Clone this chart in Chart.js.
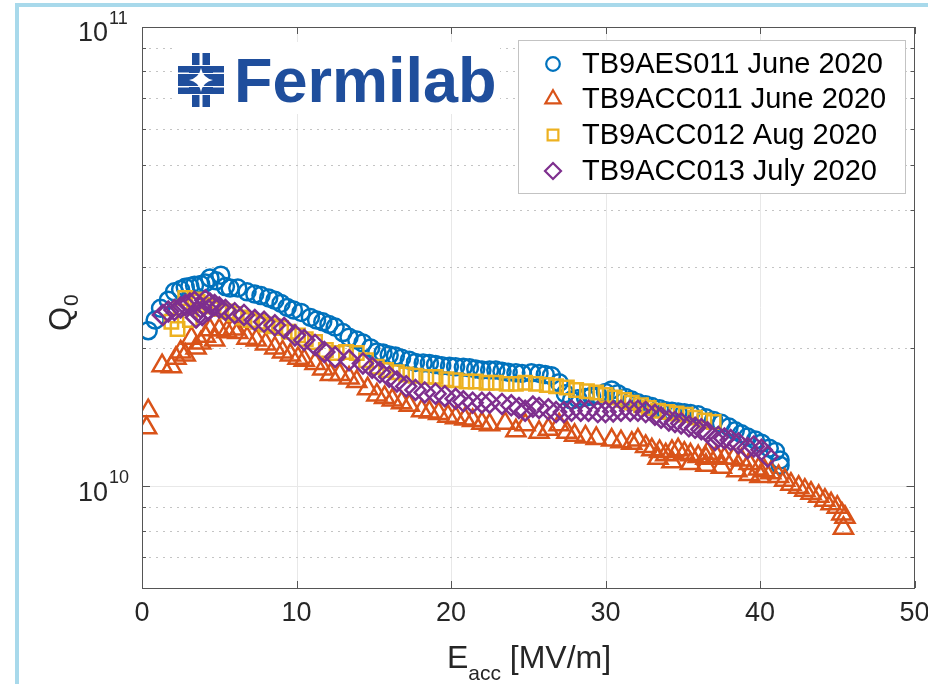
<!DOCTYPE html>
<html>
<head>
<meta charset="utf-8">
<script src="https://cdn.jsdelivr.net/npm/chart.js@4.4.1/dist/chart.umd.min.js"></script>
<style>
  html, body { margin: 0; padding: 0; background: #fff; }
  #wrap { position: relative; width: 928px; height: 684px; overflow: hidden; }
  #frame { position: absolute; left: 15px; top: 3px; right: -10px; bottom: -10px;
           border-left: 4px solid #a8d9eb; border-top: 4px solid #a8d9eb; pointer-events: none; }
  canvas { position: absolute; left: 0; top: 0; }
</style>
</head>
<body>
<div id="wrap">
  <canvas id="qChart" width="928" height="684"></canvas>
  <div id="frame"></div>
</div>
<script>
// E_acc [MV/m], Q0
const aes011June = [
  [0.4, 2.18e10], [0.85, 2.30e10], [1.2, 2.44e10], [1.7, 2.54e10], [2.1, 2.65e10], [2.5, 2.68e10],
  [2.8, 2.71e10], [3.1, 2.72e10], [3.4, 2.74e10], [3.8, 2.75e10], [4.1, 2.77e10], [4.4, 2.84e10],
  [4.8, 2.80e10], [5.1, 2.88e10], [5.4, 2.72e10], [5.7, 2.70e10], [6.2, 2.70e10], [6.8, 2.65e10],
  [7.3, 2.62e10], [7.7, 2.60e10], [8.2, 2.57e10], [8.6, 2.54e10], [9.0, 2.50e10], [9.4, 2.45e10],
  [9.8, 2.42e10], [10.3, 2.39e10], [10.9, 2.33e10], [11.3, 2.30e10], [11.7, 2.28e10], [12.1, 2.25e10],
  [12.5, 2.22e10], [13.0, 2.16e10], [13.4, 2.11e10], [13.9, 2.08e10], [14.3, 2.05e10], [14.8, 2.00e10],
  [15.2, 1.96e10], [15.6, 1.95e10], [16.0, 1.93e10], [16.4, 1.92e10], [16.8, 1.90e10], [17.3, 1.88e10],
  [17.7, 1.86e10], [18.2, 1.855e10], [18.6, 1.85e10], [19.0, 1.84e10], [19.4, 1.83e10], [19.9, 1.825e10],
  [20.3, 1.82e10], [20.8, 1.815e10], [21.2, 1.81e10], [21.6, 1.80e10], [22.0, 1.79e10], [22.5, 1.79e10],
  [22.9, 1.79e10], [23.3, 1.78e10], [23.7, 1.77e10], [24.2, 1.765e10], [24.6, 1.76e10], [25.2, 1.765e10],
  [25.7, 1.76e10], [26.1, 1.75e10], [26.5, 1.74e10], [27.0, 1.68e10], [27.4, 1.59e10], [27.8, 1.54e10],
  [28.2, 1.55e10], [28.7, 1.56e10], [29.1, 1.57e10], [29.5, 1.58e10], [30.0, 1.60e10], [30.4, 1.62e10],
  [30.8, 1.59e10], [31.3, 1.56e10], [31.7, 1.54e10], [32.1, 1.52e10], [32.6, 1.505e10], [33.0, 1.49e10],
  [33.5, 1.475e10], [33.9, 1.46e10], [34.3, 1.455e10], [34.7, 1.45e10], [35.1, 1.445e10], [35.5, 1.44e10],
  [36.0, 1.43e10], [36.5, 1.41e10], [37.0, 1.39e10], [37.5, 1.37e10], [38.0, 1.345e10], [38.4, 1.32e10],
  [38.8, 1.30e10], [39.2, 1.28e10], [39.7, 1.26e10], [40.1, 1.24e10], [40.6, 1.21e10], [41.0, 1.19e10],
  [41.3, 1.14e10], [41.3, 1.11e10]
];

const acc011June = [
  [0.3, 1.34e10], [0.4, 1.46e10], [1.3, 1.83e10], [1.9, 1.82e10], [2.2, 1.90e10], [2.5, 1.96e10],
  [2.8, 1.93e10], [3.2, 2.10e10], [3.5, 2.00e10], [3.8, 2.05e10], [4.1, 2.12e10], [4.4, 2.19e10],
  [4.7, 2.08e10], [5.0, 2.19e10], [5.5, 2.17e10], [5.9, 2.20e10], [6.2, 2.16e10], [6.8, 2.10e10],
  [7.4, 2.08e10], [8.0, 2.04e10], [8.6, 2.00e10], [9.1, 1.96e10], [9.6, 1.93e10], [10.1, 1.90e10],
  [10.5, 1.88e10], [11.2, 1.85e10], [11.7, 1.80e10], [12.2, 1.75e10], [12.8, 1.75e10], [13.4, 1.72e10],
  [13.9, 1.69e10], [14.6, 1.63e10], [15.2, 1.58e10], [15.7, 1.56e10], [16.2, 1.54e10], [16.8, 1.52e10],
  [17.3, 1.50e10], [18.1, 1.46e10], [18.6, 1.45e10], [19.2, 1.44e10], [19.8, 1.42e10], [20.3, 1.41e10],
  [20.9, 1.40e10], [21.4, 1.39e10], [22.0, 1.37e10], [22.5, 1.36e10], [23.5, 1.37e10], [24.2, 1.32e10],
  [24.8, 1.36e10], [25.7, 1.31e10], [26.3, 1.33e10], [27.0, 1.36e10], [27.5, 1.31e10], [28.0, 1.29e10],
  [28.7, 1.28e10], [29.4, 1.27e10], [30.4, 1.26e10], [31.0, 1.25e10], [31.7, 1.24e10], [32.1, 1.26e10],
  [32.6, 1.22e10], [33.0, 1.20e10], [33.4, 1.15e10], [33.5, 1.19e10], [33.9, 1.17e10], [34.3, 1.13e10],
  [34.3, 1.19e10], [34.7, 1.20e10], [35.1, 1.18e10], [35.5, 1.12e10], [35.5, 1.17e10], [36.0, 1.16e10],
  [36.5, 1.11e10], [36.5, 1.15e10], [36.6, 1.18e10], [37.2, 1.16e10], [37.5, 1.10e10], [37.7, 1.15e10],
  [38.3, 1.15e10], [38.5, 1.08e10], [38.8, 1.14e10], [39.3, 1.06e10], [39.3, 1.12e10], [39.9, 1.09e10],
  [40.0, 1.05e10], [40.3, 1.08e10], [40.7, 1.07e10], [41.2, 1.05e10], [41.6, 1.03e10], [42.0, 1.01e10],
  [42.5, 0.995e10], [42.9, 0.98e10], [43.3, 0.965e10], [43.8, 0.95e10], [44.2, 0.932e10], [44.6, 0.915e10],
  [45.0, 0.90e10], [45.3, 0.87e10], [45.5, 0.856e10], [45.4, 0.81e10]
];

const acc012Aug = [
  [1.9, 2.28e10], [2.3, 2.20e10], [2.5, 2.45e10], [2.8, 2.57e10], [3.1, 2.30e10], [3.4, 2.55e10],
  [3.6, 2.52e10], [4.0, 2.48e10], [4.5, 2.46e10], [5.0, 2.43e10], [5.5, 2.40e10], [6.0, 2.37e10],
  [6.5, 2.33e10], [7.0, 2.30e10], [7.5, 2.28e10], [8.0, 2.25e10], [8.5, 2.23e10], [9.0, 2.21e10],
  [9.5, 2.17e10], [10.1, 2.13e10], [10.6, 2.09e10], [11.2, 2.06e10], [11.9, 1.98e10], [12.6, 1.95e10],
  [13.2, 1.96e10], [13.9, 1.95e10], [14.5, 1.88e10], [15.2, 1.82e10], [15.8, 1.79e10], [16.5, 1.77e10],
  [17.1, 1.75e10], [17.7, 1.74e10], [18.4, 1.73e10], [19.0, 1.73e10], [19.7, 1.71e10], [20.3, 1.70e10],
  [21.0, 1.69e10], [21.6, 1.69e10], [22.3, 1.68e10], [22.9, 1.68e10], [23.6, 1.67e10], [24.2, 1.67e10],
  [24.8, 1.68e10], [25.5, 1.67e10], [26.2, 1.66e10], [26.8, 1.65e10], [27.5, 1.64e10], [28.1, 1.62e10],
  [28.8, 1.61e10], [29.4, 1.60e10], [30.0, 1.58e10], [30.6, 1.56e10], [31.2, 1.54e10], [31.7, 1.52e10],
  [32.3, 1.50e10], [32.8, 1.48e10], [33.4, 1.46e10], [34.0, 1.45e10], [34.6, 1.44e10], [35.2, 1.43e10],
  [35.8, 1.41e10], [36.4, 1.39e10], [37.0, 1.38e10]
];

const acc013July = [
  [1.35, 2.36e10], [1.7, 2.40e10], [2.1, 2.42e10], [2.5, 2.45e10], [2.8, 2.48e10], [3.1, 2.50e10],
  [3.4, 2.52e10], [3.5, 2.33e10], [3.6, 2.40e10], [3.8, 2.45e10], [3.9, 2.36e10], [4.1, 2.54e10],
  [4.3, 2.42e10], [4.4, 2.50e10], [4.7, 2.48e10], [5.0, 2.45e10], [5.4, 2.42e10], [6.0, 2.38e10],
  [6.6, 2.36e10], [7.3, 2.30e10], [7.9, 2.28e10], [8.6, 2.24e10], [9.2, 2.21e10], [9.9, 2.13e10],
  [10.5, 2.08e10], [11.2, 2.03e10], [11.8, 1.96e10], [12.5, 1.91e10], [13.4, 1.88e10], [14.3, 1.85e10],
  [14.9, 1.81e10], [15.4, 1.77e10], [16.0, 1.73e10], [16.5, 1.69e10], [17.1, 1.65e10], [17.7, 1.62e10],
  [18.3, 1.60e10], [19.0, 1.59e10], [19.6, 1.57e10], [20.3, 1.55e10], [20.8, 1.53e10], [21.4, 1.52e10],
  [22.0, 1.52e10], [22.5, 1.52e10], [23.3, 1.51e10], [23.9, 1.50e10], [24.4, 1.48e10], [24.8, 1.46e10],
  [25.3, 1.49e10], [25.7, 1.48e10], [26.3, 1.47e10], [26.8, 1.45e10], [27.3, 1.45e10], [27.8, 1.46e10],
  [28.4, 1.46e10], [28.9, 1.46e10], [29.5, 1.45e10], [30.0, 1.45e10], [30.5, 1.455e10], [31.0, 1.46e10],
  [31.6, 1.46e10], [32.1, 1.46e10], [32.6, 1.45e10], [33.2, 1.43e10], [33.6, 1.41e10], [34.1, 1.39e10],
  [34.5, 1.38e10], [34.9, 1.37e10], [35.4, 1.35e10], [35.8, 1.34e10], [36.2, 1.33e10], [36.6, 1.31e10],
  [37.1, 1.26e10], [37.3, 1.28e10], [37.7, 1.27e10], [38.1, 1.26e10], [38.6, 1.24e10], [39.2, 1.21e10],
  [39.6, 1.22e10], [40.1, 1.20e10], [40.5, 1.16e10]
];

const seriesLabels = ["TB9AES011 June 2020", "TB9ACC011 June 2020", "TB9ACC012 Aug 2020", "TB9ACC013 July 2020"];
const seriesColors = ["#0072BD", "#D95319", "#EDB120", "#7E2F8E"];
const seriesStyles = ["circle", "triangle", "rect", "rectRot"];
const seriesRadius = [8.5, 11, 9.5, 10];

const xTicks = [0, 10, 20, 30, 40, 50];
const yDecades = [1e10, 1e11];
const yMinor = [7e9, 8e9, 9e9, 2e10, 3e10, 4e10, 5e10, 6e10, 7e10, 8e10, 9e10];

const FONT = "'Liberation Sans', Arial, Helvetica, sans-serif";
const AXIS_COLOR = "#262626";
const FERMI_BLUE = "#1f4e9c";
const MARK_WIDTH = 2.5;

function toPoints(pairs) {
  return pairs.map(p => ({x: p[0], y: p[1]}));
}

// little helper so the legend markers match the dataset markers
function drawMarker(ctx, style, x, y, r, color) {
  ctx.save();
  ctx.strokeStyle = color;
  ctx.lineWidth = 2.2;
  ctx.beginPath();
  if (style === "circle") {
    ctx.arc(x, y, r, 0, Math.PI * 2);
  } else if (style === "triangle") {
    for (let k = 0; k < 3; k++) {
      const a = k * 2 * Math.PI / 3;
      const px = x + Math.sin(a) * r, py = y - Math.cos(a) * r;
      if (k === 0) ctx.moveTo(px, py); else ctx.lineTo(px, py);
    }
    ctx.closePath();
  } else if (style === "rect") {
    const s = r * Math.SQRT1_2;
    ctx.rect(x - s, y - s, 2 * s, 2 * s);
  } else {
    ctx.moveTo(x, y - r); ctx.lineTo(x + r, y); ctx.lineTo(x, y + r); ctx.lineTo(x - r, y);
    ctx.closePath();
  }
  ctx.stroke();
  ctx.restore();
}

function drawFermilabLogo(ctx) {
  ctx.save();
  // white patch behind the logo (pasted image in the original)
  ctx.fillStyle = "#fff";
  ctx.fillRect(176, 42, 324, 72);
  const cx = 201, cy = 80;
  ctx.fillStyle = FERMI_BLUE;
  ctx.fillRect(cx - 9, cy - 27, 18, 12);
  ctx.fillRect(cx - 23, cy - 14, 46, 7);
  ctx.fillRect(cx - 23, cy - 6, 46, 12);
  ctx.fillRect(cx - 23, cy + 7, 46, 7);
  ctx.fillRect(cx - 9, cy + 15, 18, 12);
  ctx.fillStyle = "#fff";
  ctx.fillRect(cx - 1.5, cy - 27, 3, 12);
  ctx.fillRect(cx - 1.5, cy + 15, 3, 12);
  ctx.fillRect(cx - 23, cy - 7.5, 11, 1.5);
  ctx.fillRect(cx + 12, cy - 7.5, 11, 1.5);
  ctx.fillRect(cx - 23, cy + 6, 11, 1.5);
  ctx.fillRect(cx + 12, cy + 6, 11, 1.5);
  // concave star in the middle
  const r = 12;
  ctx.beginPath();
  ctx.moveTo(cx, cy - r);
  ctx.quadraticCurveTo(cx + 2, cy - 2, cx + r, cy);
  ctx.quadraticCurveTo(cx + 2, cy + 2, cx, cy + r);
  ctx.quadraticCurveTo(cx - 2, cy + 2, cx - r, cy);
  ctx.quadraticCurveTo(cx - 2, cy - 2, cx, cy - r);
  ctx.fill();
  ctx.fillStyle = FERMI_BLUE;
  ctx.font = "bold 63px " + FONT;
  ctx.textBaseline = "alphabetic";
  ctx.textAlign = "left";
  ctx.fillText("Fermilab", 234, 102);
  ctx.restore();
}

const decorPlugin = {
  id: "decor",
  beforeDatasetsDraw(chart) {
    const {ctx, chartArea: a, scales: {x, y}} = chart;
    ctx.save();
    ctx.lineWidth = 1;
    // x grid, solid and faint
    ctx.strokeStyle = "#e8e8e8";
    for (const v of xTicks) {
      if (v === 0 || v === 50) continue;
      const px = Math.round(x.getPixelForValue(v)) + 0.5;
      ctx.beginPath(); ctx.moveTo(px, a.top); ctx.lineTo(px, a.bottom); ctx.stroke();
    }
    for (const v of yDecades) {
      const py = Math.round(y.getPixelForValue(v)) + 0.5;
      ctx.beginPath(); ctx.moveTo(a.left, py); ctx.lineTo(a.right, py); ctx.stroke();
    }
    // minor y grid, dotted
    ctx.strokeStyle = "#c4c4c4";
    ctx.setLineDash([2, 5]);
    for (const v of yMinor) {
      const py = Math.round(y.getPixelForValue(v)) + 0.5;
      ctx.beginPath(); ctx.moveTo(a.left, py); ctx.lineTo(a.right, py); ctx.stroke();
    }
    ctx.restore();
    drawFermilabLogo(ctx);
  },
  afterDatasetsDraw(chart) {
    const {ctx, chartArea: a, scales: {x, y}} = chart;
    ctx.save();
    // axes box
    ctx.strokeStyle = "#555";
    ctx.lineWidth = 1;
    ctx.strokeRect(Math.round(a.left) + 0.5, Math.round(a.top) + 0.5,
                   Math.round(a.right - a.left) - 1, Math.round(a.bottom - a.top));
    // inward ticks
    ctx.beginPath();
    for (const v of xTicks) {
      const px = Math.round(x.getPixelForValue(v)) + 0.5;
      ctx.moveTo(px, a.bottom); ctx.lineTo(px, a.bottom - 7);
      ctx.moveTo(px, a.top); ctx.lineTo(px, a.top + 7);
    }
    for (const v of yDecades) {
      const py = Math.round(y.getPixelForValue(v)) + 0.5;
      ctx.moveTo(a.left, py); ctx.lineTo(a.left + 8, py);
      ctx.moveTo(a.right, py); ctx.lineTo(a.right - 8, py);
    }
    for (const v of yMinor) {
      const py = Math.round(y.getPixelForValue(v)) + 0.5;
      ctx.moveTo(a.left, py); ctx.lineTo(a.left + 4, py);
      ctx.moveTo(a.right, py); ctx.lineTo(a.right - 4, py);
    }
    ctx.stroke();

    // y tick labels 10^10, 10^11
    ctx.fillStyle = AXIS_COLOR;
    ctx.textBaseline = "middle";
    for (const v of yDecades) {
      const py = y.getPixelForValue(v);
      ctx.font = "27px " + FONT;
      ctx.textAlign = "right";
      ctx.fillText("10", 108, py + 7);
      ctx.font = "18px " + FONT;
      ctx.textAlign = "left";
      ctx.fillText(String(Math.round(Math.log10(v))), 109, py - 8);
    }

    // y title Q_0
    ctx.save();
    ctx.translate(71, 331);
    ctx.rotate(-Math.PI / 2);
    ctx.textBaseline = "alphabetic";
    ctx.textAlign = "left";
    ctx.font = "31px " + FONT;
    ctx.fillText("Q", 0, 0);
    const qw = ctx.measureText("Q").width;
    ctx.font = "21px " + FONT;
    ctx.fillText("0", qw + 1, 7);
    ctx.restore();

    // x title E_acc [MV/m]
    ctx.textBaseline = "alphabetic";
    ctx.textAlign = "left";
    ctx.font = "32px " + FONT;
    const wE = ctx.measureText("E").width;
    const wRest = ctx.measureText(" [MV/m]").width;
    ctx.font = "21px " + FONT;
    const wSub = ctx.measureText("acc").width;
    let tx = 529 - (wE + wSub + wRest) / 2;
    ctx.font = "32px " + FONT;
    ctx.fillText("E", tx, 668);
    tx += wE;
    ctx.font = "21px " + FONT;
    ctx.fillText("acc", tx, 680);
    tx += wSub;
    ctx.font = "32px " + FONT;
    ctx.fillText(" [MV/m]", tx, 668);

    // legend box
    const lx = 518, ly = 40, lw = 387, lh = 153;
    ctx.fillStyle = "#fff";
    ctx.fillRect(lx, ly, lw, lh);
    ctx.strokeStyle = "#c3c3c3";
    ctx.strokeRect(lx + 0.5, ly + 0.5, lw, lh);
    const rows = [64, 99, 135, 171];
    ctx.font = "29px " + FONT;
    ctx.textBaseline = "middle";
    ctx.fillStyle = "#000";
    seriesLabels.forEach((lab, i) => {
      drawMarker(ctx, seriesStyles[i], 553, rows[i], seriesRadius[i] * 0.8, seriesColors[i]);
      ctx.fillText(lab, 582, rows[i] + 1);
    });
    ctx.restore();
  }
};

const allSeries = [aes011June, acc011June, acc012Aug, acc013July];
const datasets = allSeries.map((s, i) => ({
  label: seriesLabels[i],
  data: toPoints(s),
  pointStyle: seriesStyles[i],
  pointRadius: seriesRadius[i],
  pointHoverRadius: seriesRadius[i],
  pointBorderWidth: MARK_WIDTH,
  borderColor: seriesColors[i],
  backgroundColor: "rgba(0,0,0,0)",
  showLine: false,
  order: 3 - i   // later series on top, like the original plot
}));

new Chart(document.getElementById("qChart"), {
  type: "scatter",
  data: {datasets: datasets},
  plugins: [decorPlugin],
  options: {
    responsive: false,
    animation: false,
    devicePixelRatio: 1,
    layout: {padding: {top: 27, right: 11, left: 0, bottom: 0}},
    plugins: {legend: {display: false}, tooltip: {enabled: false}},
    scales: {
      x: {
        type: "linear", min: 0, max: 50,
        ticks: {stepSize: 10, color: AXIS_COLOR, font: {family: FONT, size: 27}, padding: 9, maxRotation: 0},
        grid: {display: false, drawTicks: false},
        border: {display: false},
        afterFit(s) { s.height = 96; s.paddingLeft = 0; s.paddingRight = 0; }
      },
      y: {
        type: "logarithmic", min: 6e9, max: 1e11,
        ticks: {display: false},
        grid: {display: false, drawTicks: false},
        border: {display: false},
        afterFit(s) { s.width = 142; s.paddingTop = 0; s.paddingBottom = 0; }
      }
    }
  }
});
</script>
</body>
</html>
